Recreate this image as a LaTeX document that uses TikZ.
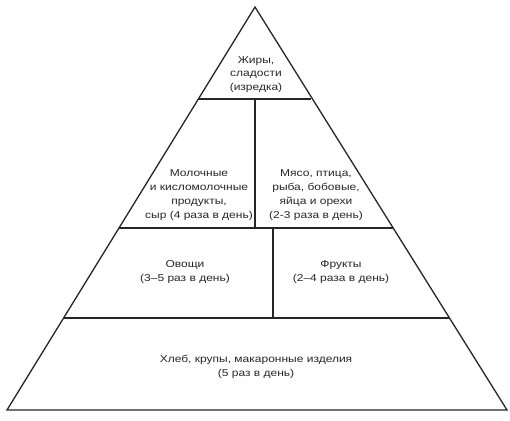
\documentclass[tikz,border=0pt]{standalone}
\usepackage{fontspec}
\setmainfont{Liberation Sans}[FakeStretch=1.2]
\begin{document}
\begin{tikzpicture}[x=1pt,y=-1pt,
  edge/.style={line width=1.3pt,draw=black!85},
  lbl/.style={align=center,font=\fontsize{10}{13.8}\selectfont,text=black!85,inner sep=0pt}]
\useasboundingbox (0,0) rectangle (510,420);
\coordinate (A) at (255,7);
\coordinate (L) at (7,410);
\coordinate (R) at (507,410);
\draw[edge,line join=miter] (A) -- (L) -- (R) -- cycle;
% horizontal dividers
\draw[edge] (198.4,99) -- (311.4,99);
\draw[edge] (119,228) -- (393,228);
\draw[edge] (64,318) -- (449.5,318);
% vertical dividers
\draw[edge] (255,99) -- (255,228);
\draw[edge] (273,228) -- (273,318);
\node[lbl] (fat) at (256,74.5) {Жиры,\\сладости\\(изредка)};
\node[lbl] (milk) at (199,195) {Молочные\\и кисломолочные\\продукты,\\сыр (4 раза в день)};
\node[lbl] (meat) at (316,195) {Мясо, птица,\\рыба, бобовые,\\яйца и орехи\\(2-3 раза в день)};
\node[lbl] (veg) at (185,272) {Овощи\\(3–5 раз в день)};
\node[lbl] (fruit) at (341,272) {Фрукты\\(2–4 раза в день)};
\node[lbl] (bread) at (256,367) {Хлеб, крупы, макаронные изделия\\(5 раз в день)};
\end{tikzpicture}
\end{document}
